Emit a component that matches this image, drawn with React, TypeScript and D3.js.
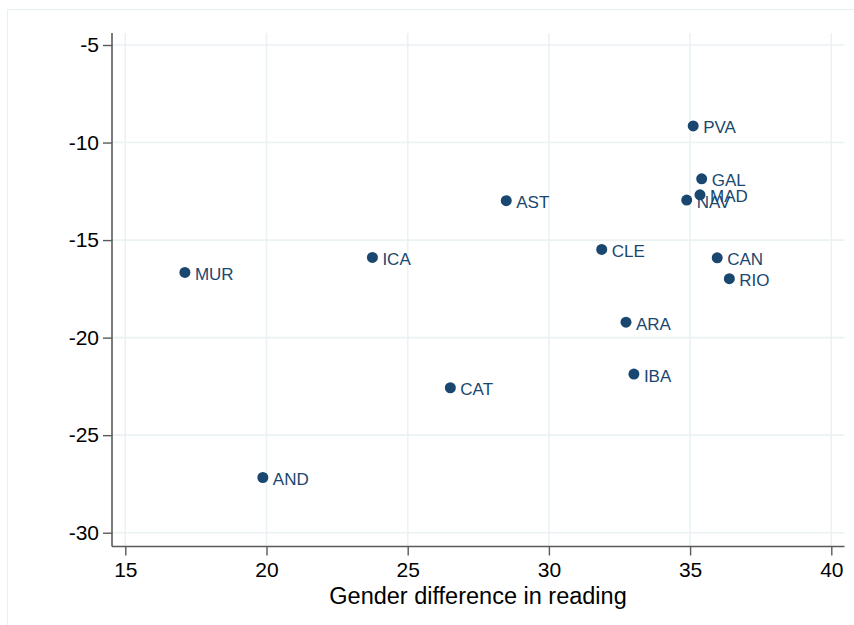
import React, { useEffect, useRef } from "react";
import * as d3 from "d3";

// regions and their values
const regions = ["PVA", "GAL", "MAD", "NAV", "AST", "CLE", "CAN", "RIO", "ICA", "MUR", "ARA", "IBA", "CAT", "AND"];
const readingGap = [35.11, 35.41, 35.35, 34.88, 28.49, 31.87, 35.96, 36.39, 23.75, 17.11, 32.73, 33.01, 26.51, 19.87];
const mathGap = [-9.15, -11.86, -12.68, -12.95, -12.98, -15.48, -15.91, -16.98, -15.89, -16.66, -19.21, -21.87, -22.57, -27.17];

const xTicks = [15, 20, 25, 30, 35, 40];
const yTicks = [-5, -10, -15, -20, -25, -30];
const xTitle = "Gender difference in reading";

export default function App() {
  const ref = useRef<SVGSVGElement>(null);

  useEffect(() => {
    const svg = d3.select(ref.current);
    svg.selectAll("*").remove();

    const width = 854,
      height = 625;
    const plot = { left: 112, right: 844.5, top: 33, bottom: 546.5 };
    const navy = "#1a476f";
    const font = "Arial, 'Liberation Sans', Helvetica, sans-serif";

    const x = d3.scaleLinear().domain([15, 40]).range([125.3, 831.3]);
    const y = d3.scaleLinear().domain([-30, -5]).range([532.7, 45]);

    svg.attr("width", width).attr("height", height);

    // faint outer frame
    svg
      .append("rect")
      .attr("x", 7.5)
      .attr("y", 9.5)
      .attr("width", 900)
      .attr("height", 700)
      .attr("fill", "none")
      .attr("stroke", "#eaf0f2")
      .attr("stroke-width", 1.2);

    // grid
    const grid = svg.append("g").attr("stroke", "#eaf2f3").attr("stroke-width", 1.6);
    grid
      .selectAll(".gx")
      .data(xTicks)
      .enter()
      .append("line")
      .attr("x1", (d) => x(d))
      .attr("x2", (d) => x(d))
      .attr("y1", plot.top)
      .attr("y2", plot.bottom);
    grid
      .selectAll(".gy")
      .data(yTicks)
      .enter()
      .append("line")
      .attr("x1", plot.left)
      .attr("x2", plot.right)
      .attr("y1", (d) => y(d))
      .attr("y2", (d) => y(d));

    // axes (plain hyphen for negatives, like the original)
    const fmt = (d: any) => String(d);
    const xAxis = svg
      .append("g")
      .attr("transform", `translate(0,${plot.bottom})`)
      .call(d3.axisBottom(x).tickValues(xTicks).tickSize(9).tickPadding(7).tickFormat(fmt));
    const yAxis = svg
      .append("g")
      .attr("transform", `translate(${plot.left},0)`)
      .call(d3.axisLeft(y).tickValues(yTicks).tickSize(9).tickPadding(4).tickFormat(fmt));

    [xAxis, yAxis].forEach((g) => {
      g.select(".domain").remove();
      g.selectAll("line").attr("stroke", "#5a5a5a").attr("stroke-width", 1.4);
      g.selectAll("text")
        .attr("fill", "#000")
        .style("font-family", font)
        .style("font-size", "21px");
    });

    svg
      .append("line")
      .attr("x1", plot.left)
      .attr("x2", plot.left)
      .attr("y1", plot.top)
      .attr("y2", plot.bottom)
      .attr("stroke", "#5a5a5a")
      .attr("stroke-width", 1.6);
    svg
      .append("line")
      .attr("x1", plot.left)
      .attr("x2", plot.right)
      .attr("y1", plot.bottom)
      .attr("y2", plot.bottom)
      .attr("stroke", "#5a5a5a")
      .attr("stroke-width", 1.6);

    svg
      .append("text")
      .attr("x", 478)
      .attr("y", 603.5)
      .attr("text-anchor", "middle")
      .attr("fill", "#000")
      .style("font-family", font)
      .style("font-size", "23.5px")
      .text(xTitle);

    // points + labels
    const data = regions.map((r, i) => ({ r, x: readingGap[i], y: mathGap[i] }));
    const pts = svg.append("g");
    pts
      .selectAll("circle")
      .data(data)
      .enter()
      .append("circle")
      .attr("cx", (d) => x(d.x))
      .attr("cy", (d) => y(d.y))
      .attr("r", 5.5)
      .attr("fill", navy);
    pts
      .selectAll("text")
      .data(data)
      .enter()
      .append("text")
      .attr("x", (d) => x(d.x) + 10)
      .attr("y", (d) => y(d.y) + 7.5)
      .attr("fill", navy)
      .style("font-family", font)
      .style("font-size", "17px")
      .text((d) => d.r);
  }, []);

  return (
    <div style={{ position: "absolute", left: 0, top: 0 }}>
      <svg ref={ref}></svg>
    </div>
  );
}
